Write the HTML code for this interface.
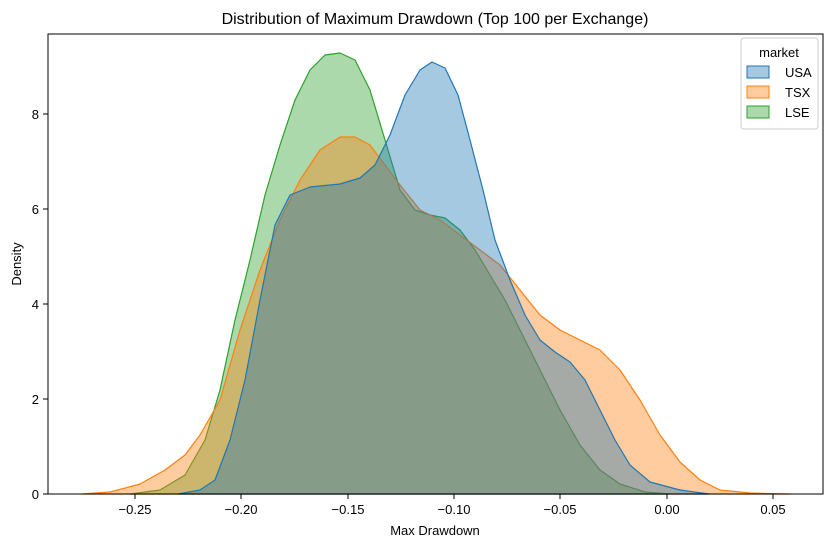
<!DOCTYPE html>
<html><head><meta charset="utf-8"><style>body{margin:0;background:#fff}</style></head><body>
<svg width="833" height="547" xmlns="http://www.w3.org/2000/svg" font-family="Liberation Sans, DejaVu Sans, sans-serif">
<rect width="833" height="547" fill="#fff"/>
<text x="435" y="24" font-size="16" text-anchor="middle" fill="#000">Distribution of Maximum Drawdown (Top 100 per Exchange)</text>
<g stroke-width="1.2" stroke-linejoin="round">
<polygon fill="#2ca02c" fill-opacity="0.4" stroke="#2ca02c" points="130,494 160,490 185,475 205,440 220,390 235,320 250,260 265,195 280,145 295,100 310,70 325,55 340,53 355,60 370,90 385,140 400,190 415,210 430,215 445,218 460,230 475,250 490,275 505,300 520,330 540,370 560,410 580,445 600,470 620,484 645,492 670,494"/>
<polygon fill="#ff7f0e" fill-opacity="0.4" stroke="#ff7f0e" points="82,494 110,492 140,484 165,470 185,455 200,435 220,400 240,330 260,270 280,220 300,180 320,150 340,137 355,137 370,145 385,165 400,185 420,210 440,220 460,235 480,250 500,265 520,290 540,315 560,330 580,340 600,350 620,370 640,400 660,435 680,462 700,480 720,490 750,493 790,494"/>
<polygon fill="#1f77b4" fill-opacity="0.4" stroke="#1f77b4" points="178,494 200,490 215,480 230,440 245,380 260,300 275,225 290,195 310,187 340,184 360,178 375,165 390,135 405,95 420,70 432,62 445,68 458,95 470,140 483,190 495,240 510,280 525,315 540,340 555,352 570,362 585,380 600,410 615,440 630,465 650,482 680,490 709,494"/>
</g>
<rect x="48" y="34" width="775" height="460" fill="none" stroke="#000" stroke-width="1"/>
<g stroke="#000" font-size="13" fill="#000">
<line x1="135" y1="494" x2="135" y2="499"/><line x1="241" y1="494" x2="241" y2="499"/><line x1="348" y1="494" x2="348" y2="499"/><line x1="454" y1="494" x2="454" y2="499"/><line x1="560" y1="494" x2="560" y2="499"/><line x1="667" y1="494" x2="667" y2="499"/><line x1="773" y1="494" x2="773" y2="499"/>
<line x1="43" y1="494" x2="48" y2="494"/><line x1="43" y1="399" x2="48" y2="399"/><line x1="43" y1="304" x2="48" y2="304"/><line x1="43" y1="209" x2="48" y2="209"/><line x1="43" y1="114" x2="48" y2="114"/>
</g>
<g font-size="13" fill="#000" text-anchor="middle">
<text x="135" y="514">−0.25</text><text x="241" y="514">−0.20</text><text x="348" y="514">−0.15</text><text x="454" y="514">−0.10</text><text x="560" y="514">−0.05</text><text x="667" y="514">0.00</text><text x="773" y="514">0.05</text>
<text x="435" y="535">Max Drawdown</text>
</g>
<g font-size="13" fill="#000" text-anchor="end">
<text x="39" y="499">0</text><text x="39" y="404">2</text><text x="39" y="309">4</text><text x="39" y="214">6</text><text x="39" y="119">8</text>
</g>
<text transform="translate(21,264) rotate(-90)" font-size="13" text-anchor="middle">Density</text>
<rect x="741" y="38" width="77" height="91" rx="3" fill="#fff" fill-opacity="0.8" stroke="#ccc"/>
<text x="779" y="57" font-size="13" text-anchor="middle">market</text>
<rect x="747" y="66" width="22" height="12" fill="#1f77b4" fill-opacity="0.4" stroke="#1f77b4"/>
<text x="785" y="77" font-size="13">USA</text>
<rect x="747" y="86" width="22" height="12" fill="#ff7f0e" fill-opacity="0.4" stroke="#ff7f0e"/>
<text x="785" y="97" font-size="13">TSX</text>
<rect x="747" y="106" width="22" height="12" fill="#2ca02c" fill-opacity="0.4" stroke="#2ca02c"/>
<text x="785" y="117" font-size="13">LSE</text>
</svg>
</body></html>
